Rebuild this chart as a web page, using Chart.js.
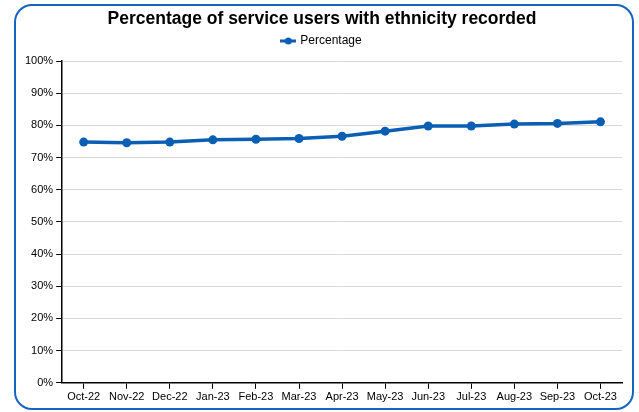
<!DOCTYPE html>
<html>
<head>
<meta charset="utf-8">
<script src="https://cdn.jsdelivr.net/npm/chart.js@4"></script>
<style>
    html, body { margin: 0; padding: 0; background: #fff; }
    #frame {
        position: absolute; left: 14px; top: 4px; width: 616px; height: 402px;
        border: 2.5px solid #1565c0; border-radius: 18px;
    }
    #wrap { position: absolute; left: 0; top: 0; width: 639px; height: 412px; }
</style>
</head>
<body>
<div id="frame"></div>
<div id="wrap"><canvas id="chart"></canvas></div>
<script>
// Chart data
const months = ['Oct-22', 'Nov-22', 'Dec-22', 'Jan-23', 'Feb-23', 'Mar-23', 'Apr-23',
    'May-23', 'Jun-23', 'Jul-23', 'Aug-23', 'Sep-23', 'Oct-23'];
const percentage = [74.8, 74.6, 74.8, 75.5, 75.7, 75.9, 76.6, 78.2, 79.8, 79.8, 80.4, 80.6, 81.1];
const yTicks = [0, 10, 20, 30, 40, 50, 60, 70, 80, 90, 100];

const blue = '#0a5fb4';

// Legend marker: line with a dot in the middle
function legendMarker() {
    const c = document.createElement('canvas');
    c.width = 16; c.height = 8;
    const ctx = c.getContext('2d');
    ctx.strokeStyle = blue;
    ctx.lineWidth = 3;
    ctx.beginPath(); ctx.moveTo(0, 4); ctx.lineTo(16, 4); ctx.stroke();
    ctx.fillStyle = blue;
    ctx.beginPath(); ctx.arc(8, 4, 3.5, 0, Math.PI * 2); ctx.fill();
    return c;
}

// Push the plot area a bit further below the legend
const legendGap = {
    id: 'legendGap',
    beforeInit(chart) {
        const fit = chart.legend.fit;
        chart.legend.fit = function () {
            fit.call(this);
            this.height += 4;
        };
    }
};

Chart.defaults.font.family = '"Liberation Sans", Arial, sans-serif';
Chart.defaults.color = '#000';

const ctx = document.getElementById('chart').getContext('2d');
new Chart(ctx, {
    type: 'line',
    data: {
        labels: months,
        datasets: [{
            label: 'Percentage',
            data: percentage,
            borderColor: blue,
            backgroundColor: blue,
            borderWidth: 3.5,
            pointRadius: 4.5,
            pointBackgroundColor: blue,
            pointBorderWidth: 0,
            tension: 0,
            pointStyle: 'circle'
        }]
    },
    plugins: [legendGap],
    options: {
        responsive: true,
        maintainAspectRatio: false,
        animation: false,
        layout: { padding: { left: 22, right: 17, top: 7, bottom: 6 } },
        plugins: {
            title: {
                display: true,
                text: 'Percentage of service users with ethnicity recorded',
                font: { size: 17.5, weight: 'bold' },
                padding: { top: 2, bottom: 0 }
            },
            legend: {
                labels: {
                    usePointStyle: true,
                    pointStyle: legendMarker(),
                    font: { size: 12 },
                    padding: 5
                }
            },
            tooltip: { enabled: false }
        },
        scales: {
            x: {
                offset: true,
                grid: { drawOnChartArea: false, color: '#000', tickLength: 6, offset: false },
                border: { color: '#000', width: 1.5 },
                ticks: { font: { size: 11 }, maxRotation: 0, autoSkip: false, padding: 2 }
            },
            y: {
                min: 0,
                max: 100,
                afterBuildTicks: axis => { axis.ticks = yTicks.map(v => ({ value: v })); },
                grid: { color: '#d9d9d9', tickColor: '#000', tickLength: 6 },
                border: { color: '#000', width: 1.5 },
                ticks: { font: { size: 11 }, padding: 3, callback: v => v + '%' }
            }
        }
    }
});
</script>
</body>
</html>
